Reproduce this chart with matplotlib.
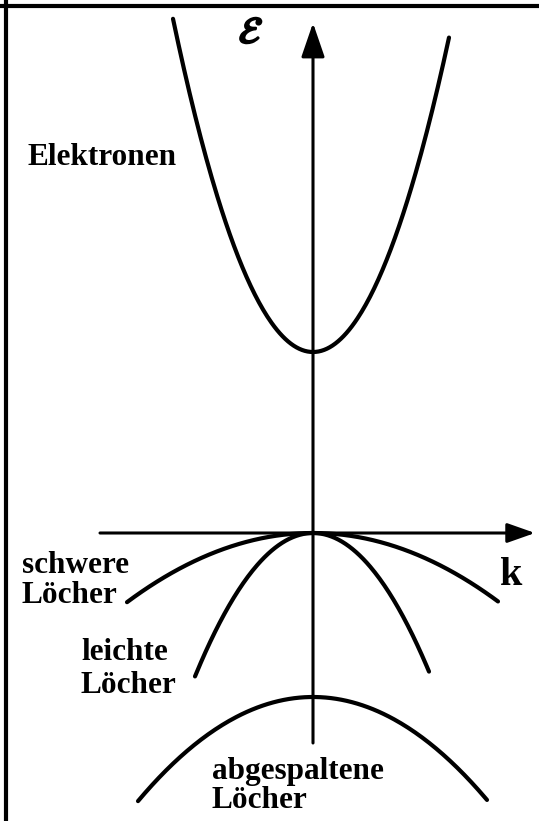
import numpy as np
import matplotlib
matplotlib.use('Agg')
import matplotlib.pyplot as plt
import matplotlib.patheffects as pe
from matplotlib.lines import Line2D

# band parameters (units: 100 px, origin at k=0, E=0 at valence band top)
band_names = ['Elektronen', 'schwere Löcher', 'leichte Löcher', 'abgespaltene Löcher']
band_E0 = [1.81, 0.0, 0.0, -1.64]          # energy at k = 0
band_curv = [1.70, -0.20, -1.03, -0.34]    # E = E0 + curv * k^2
band_kmin = [-1.40, -1.86, -1.18, -1.75]
band_kmax = [1.36, 1.85, 1.16, 1.74]

# label lines (text, left x, baseline y)
label_text = ['Elektronen', 'schwere', 'Löcher', 'leichte', 'Löcher', 'abgespaltene', 'Löcher']
label_k = [-2.85, -2.91, -2.91, -2.32, -2.32, -1.01, -1.01]
label_E = [3.68, -0.40, -0.70, -1.27, -1.60, -2.46, -2.75]

plt.rcParams['mathtext.fontset'] = 'stix'

fig = plt.figure(figsize=(5.39, 8.21), dpi=100)
ax = fig.add_axes([0, 0, 1, 1])
ax.set_xlim(-3.13, 2.26)
ax.set_ylim(-2.88, 5.33)
ax.axis('off')

# bands
for e0, c, k0, k1 in zip(band_E0, band_curv, band_kmin, band_kmax):
    k = np.linspace(k0, k1, 200)
    ax.plot(k, e0 + c * k**2, color='black', lw=3.0, solid_capstyle='round')

# axes with arrows
ax.annotate('', xy=(0, 5.10), xytext=(0, -2.10),
            arrowprops=dict(arrowstyle='-|>,head_length=1.05,head_width=0.36',
                            mutation_scale=20, lw=2.2, color='black',
                            shrinkA=0, shrinkB=0))
ax.annotate('', xy=(2.22, 0), xytext=(-2.13, 0),
            arrowprops=dict(arrowstyle='-|>,head_length=0.85,head_width=0.30',
                            mutation_scale=20, lw=2.2, color='black',
                            shrinkA=0, shrinkB=0))

font = dict(family='Liberation Serif', weight='bold', color='black')
for t, x, y in zip(label_text, label_k, label_E):
    ax.text(x, y, t, fontsize=22.5, ha='left', va='baseline', **font)

ax.text(1.87, -0.52, 'k', fontsize=29, ha='left', va='baseline', **font)
ax.text(-0.62, 5.00, r'$\mathcal{E}$', fontsize=27, ha='center', va='center',
        path_effects=[pe.withStroke(linewidth=1.6, foreground='black')])

# frame on left and top only
fig.add_artist(Line2D([5.5 / 539, 5.5 / 539], [0, 1], color='black', lw=3.0,
                      transform=fig.transFigure))
fig.add_artist(Line2D([0, 1], [1 - 6.5 / 821, 1 - 6.5 / 821], color='black', lw=3.0,
                      transform=fig.transFigure))

fig.savefig('out.png', dpi=100)
